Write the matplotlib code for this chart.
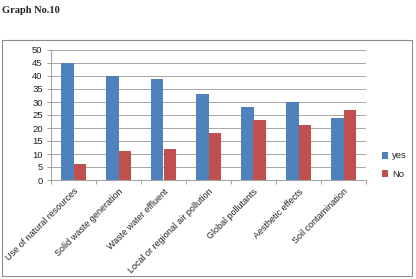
import matplotlib
matplotlib.use("Agg")
import matplotlib.pyplot as plt
from matplotlib.patches import Rectangle
import numpy as np

categories = ["Use of natural resources", "Solid waste generation", "Waste water effluent",
              "Local or regional air pollution", "Global pollutants", "Aesthetic effects",
              "Soil contamination"]
yes_vals = [45, 40, 39, 33, 28, 30, 24]
no_vals = [6, 11, 12, 18, 23, 21, 27]
series_names = ["yes", "No"]

W, H = 416, 279
fig = plt.figure(figsize=(W/100, H/100), dpi=100)
fig.patch.set_facecolor("white")

# outer frame
fig.add_artist(Rectangle((2/W, 1-276/H), 410/W, 236/H, transform=fig.transFigure,
                         fill=False, edgecolor="#8c8c8c", linewidth=0.8))
fig.text(2/W, 1-13/H, "Graph No.10", fontfamily="Liberation Serif", fontweight="bold",
         fontsize=7.5, color="#222222", ha="left", va="baseline")

ax = fig.add_axes([51/W, 1-180/H, 315/W, 130/H])
x = np.arange(len(categories))
bw = 0.28
ax.bar(x - bw/2, yes_vals, bw, color="#4F81BD", label=series_names[0], zorder=3)
ax.bar(x + bw/2, no_vals, bw, color="#C0504D", label=series_names[1], zorder=3)

ax.set_xlim(-0.5, len(categories) - 0.5)
ax.set_ylim(0, 50)
ax.set_yticks(range(0, 51, 5))
ax.grid(axis="y", color="#a6a6a6", linewidth=0.7, zorder=0)
ax.set_xticks(np.arange(-0.5, len(categories), 1))
ax.set_xticklabels([])
ax.set_xticks(x, minor=True)
ax.set_xticklabels(categories, minor=True, rotation=45, ha="right", rotation_mode="anchor",
                   fontsize=6.5, fontfamily="Liberation Sans", color="#222222")
ax.tick_params(axis="x", which="minor", length=0, pad=5)
ax.tick_params(axis="x", which="major", length=3, color="#a6a6a6")
ax.tick_params(axis="y", length=3, color="#a6a6a6", labelsize=6.8, pad=3, labelcolor="#222222")
for lab in ax.get_yticklabels():
    lab.set_fontfamily("Liberation Sans")
for s in ["top", "right"]:
    ax.spines[s].set_visible(False)
for s in ["left", "bottom"]:
    ax.spines[s].set_color("#a6a6a6")
    ax.spines[s].set_linewidth(0.8)

leg = fig.legend(loc="upper left", bbox_to_anchor=(373/W, 1-143/H), frameon=False,
                 prop={"family": "Liberation Sans", "size": 6.8}, handlelength=0.7,
                 handleheight=0.7, handletextpad=0.4, labelspacing=1.0)
for t in leg.get_texts():
    t.set_color("#222222")

fig.savefig("out.png", dpi=100)
